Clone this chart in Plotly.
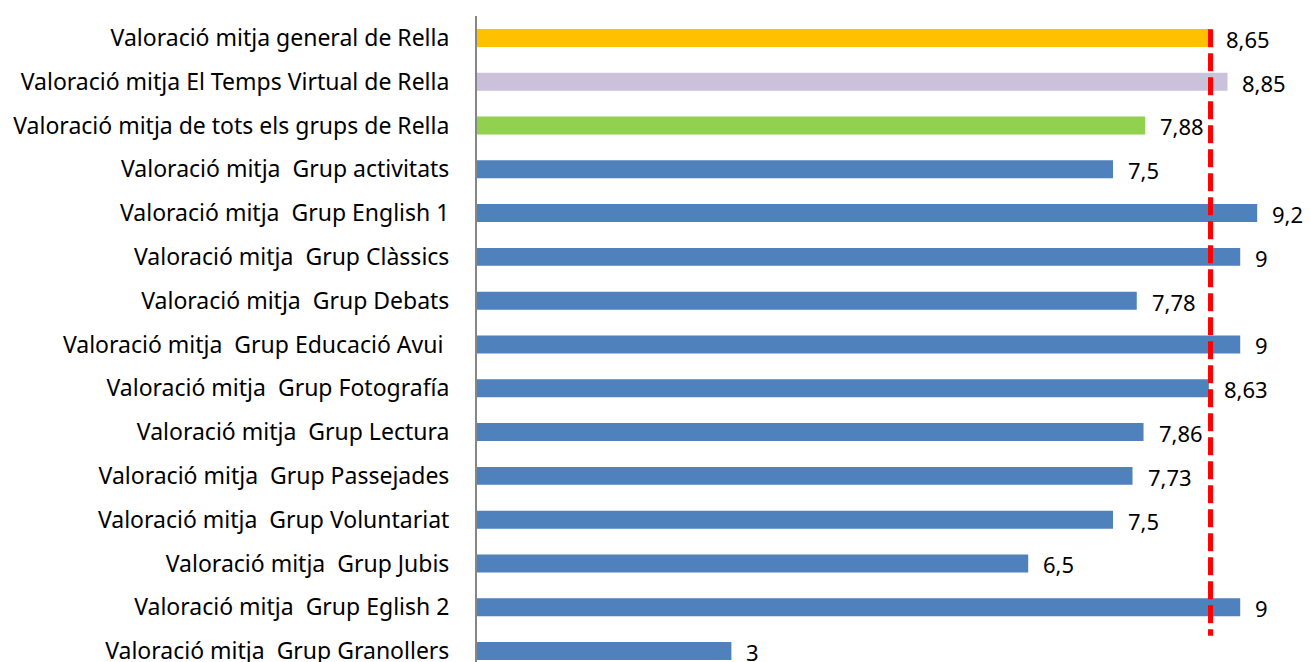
import plotly.graph_objects as go

categories = [
    "Valoració mitja general de Rella",
    "Valoració mitja El Temps Virtual de Rella",
    "Valoració mitja de tots els grups de Rella",
    "Valoració mitja\u00a0 Grup activitats",
    "Valoració mitja\u00a0 Grup English 1",
    "Valoració mitja\u00a0 Grup Clàssics",
    "Valoració mitja\u00a0 Grup Debats",
    "Valoració mitja\u00a0 Grup Educació Avui\u00a0",
    "Valoració mitja\u00a0 Grup Fotografía",
    "Valoració mitja\u00a0 Grup Lectura",
    "Valoració mitja\u00a0 Grup Passejades",
    "Valoració mitja\u00a0 Grup Voluntariat",
    "Valoració mitja\u00a0 Grup Jubis",
    "Valoració mitja\u00a0 Grup Eglish 2",
    "Valoració mitja\u00a0 Grup Granollers",
]
values = [8.65, 8.85, 7.88, 7.5, 9.2, 9, 7.78, 9, 8.63, 7.86, 7.73, 7.5, 6.5, 9, 3]
value_labels = ["8,65", "8,85", "7,88", "7,5", "9,2", "9", "7,78", "9", "8,63",
                "7,86", "7,73", "7,5", "6,5", "9", "3"]
bar_colors = ["#FFC000", "#CCC1DA", "#92D050"] + ["#4F81BD"] * 12
average_line = values[0]

FONT = "Noto Sans"
fig = go.Figure()
fig.add_trace(go.Bar(
    y=categories, x=values, orientation="h",
    marker=dict(color=bar_colors, line=dict(width=0)),
    width=0.41, showlegend=False, hoverinfo="skip",
))

for c, v, t in zip(categories, values, value_labels):
    fig.add_annotation(x=v, y=c, text=t, showarrow=False, xanchor="left",
                       xshift=13, yshift=-1, font=dict(family=FONT, size=22, color="black"))

fig.add_shape(type="line", xref="x", yref="y", x0=average_line, x1=average_line,
              y0=-0.2, y1=13.65,
              line=dict(color="#FF0000", width=5, dash="18px,6px"))

fig.update_layout(
    width=1310, height=662,
    margin=dict(l=477, r=0, t=16, b=0, autoexpand=False),
    plot_bgcolor="white", paper_bgcolor="white",
    font=dict(family=FONT, size=22, color="black"),
    xaxis=dict(range=[0, 9.823], visible=False, showgrid=False, zeroline=False,
               automargin=False),
    yaxis=dict(range=[14.25, -0.5], type="category", showgrid=False,
               showline=True, linecolor="#868686", linewidth=2,
               ticks="", ticklabelstandoff=21, automargin=False,
               tickfont=dict(family=FONT, size=23, color="black")),
)
fig.write_html("out.html", config={"displayModeBar": False},
               post_script="document.body.style.margin='0';")
